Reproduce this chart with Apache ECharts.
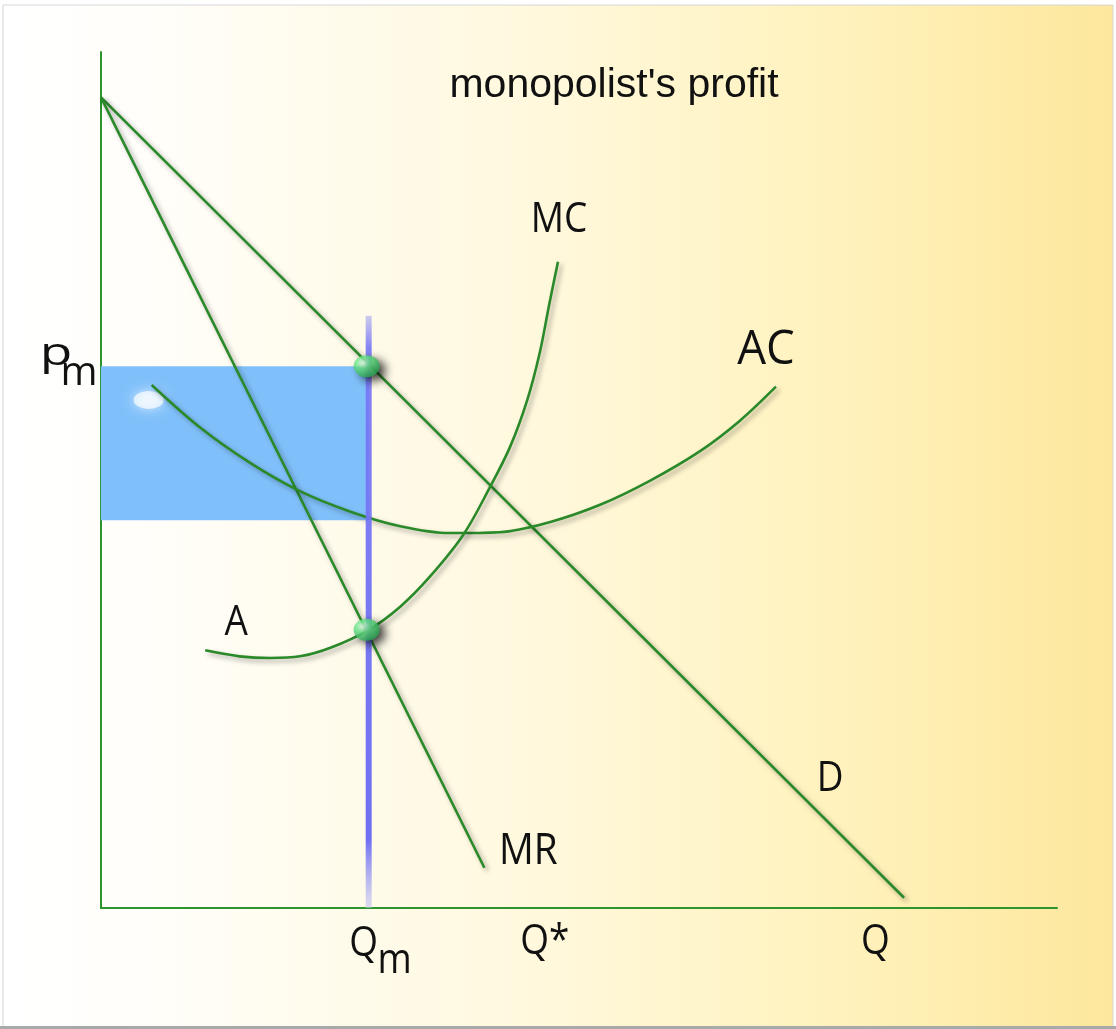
<!DOCTYPE html>
<html>
<head>
<meta charset="utf-8">
<script src="https://cdn.jsdelivr.net/npm/echarts@6/dist/echarts.min.js"></script>
<style>
html, body { margin: 0; padding: 0; background: #ffffff; }
#chart { width: 1116px; height: 1029px; }
</style>
</head>
<body>
<div id="chart"></div>
<script>
// ---- Data (quantity on x, price on y; arbitrary 0-100 units) ----
const demandCurve = [[0, 94.7], [84.0, 1.2]];
const marginalRevenueCurve = [[0, 94.7], [40.1, 4.7]];
const marginalCostCurve = [
  [10.9, 30.1], [14.5, 29.4], [17.7, 29.2], [20.8, 29.4], [24.0, 30.4],
  [28.0, 32.5], [31.3, 35.2], [34.4, 38.7], [37.9, 43.6], [40.7, 49.2],
  [42.8, 53.9], [44.6, 59.4], [45.9, 64.9], [46.9, 70.6], [47.8, 75.5]
];
const averageCostCurve = [
  [5.3, 61.1], [10.4, 56.1], [15.6, 52.0], [20.8, 48.7], [26.1, 46.3],
  [31.3, 44.6], [36.5, 43.8], [41.7, 43.9], [47.0, 45.1], [52.2, 47.1],
  [57.4, 49.9], [62.7, 53.4], [66.8, 56.9], [70.6, 60.9]
];
const monopolyQuantity = 28.0;
const monopolyPrice = 63.3;
const averageCostAtQm = 45.3;
const marginalCostAtQm = 32.5;
const qmLineTop = 69.2;
const xTickValues = [28.0, 46.0, 80.9];
const xTickLabels = [['Q', 'm'], ['Q*', ''], ['Q', '']];
const yTickValues = [63.3];
const yTickLabels = [['p', 'm']];
const titleText = "monopolist's profit";

// ---- Chart ----
const chart = echarts.init(document.getElementById('chart'), null, { renderer: 'canvas' });
const GREEN = '#2a8a2a';
const lineShadow = { shadowColor: 'rgba(0,0,0,0.35)', shadowBlur: 5, shadowOffsetX: 3, shadowOffsetY: 3 };
const curveStyle = Object.assign({ color: GREEN, width: 2.6 }, lineShadow);

const bgGradient = new echarts.graphic.LinearGradient(0, 0, 1, 0, [
  { offset: 0, color: '#ffffff' },
  { offset: 0.12, color: '#fffefa' },
  { offset: 0.45, color: '#fff9e0' },
  { offset: 0.75, color: '#fff2bd' },
  { offset: 1, color: '#fde79c' }
]);

const sphere = new echarts.graphic.RadialGradient(0.35, 0.35, 0.75, [
  { offset: 0, color: '#e6fff0' },
  { offset: 0.35, color: '#6be88a' },
  { offset: 1, color: '#1f9e4c' }
]);

const qmGradient = new echarts.graphic.LinearGradient(0, 0, 0, 1, [
  { offset: 0, color: 'rgba(130,130,245,0.35)' },
  { offset: 0.06, color: 'rgba(118,118,245,0.9)' },
  { offset: 0.88, color: '#6f6ff3' },
  { offset: 1, color: 'rgba(200,200,240,0.55)' }
]);

chart.setOption({
  animation: false,
  backgroundColor: 'transparent',
  grid: { left: 101, top: 52, width: 956, height: 856 },
  xAxis: {
    type: 'value', min: 0, max: 100,
    axisLine: { show: true, onZero: false, lineStyle: { color: '#2e952e', width: 2 } },
    axisTick: { show: false }, axisLabel: { show: false }, splitLine: { show: false }
  },
  yAxis: {
    type: 'value', min: 0, max: 100,
    axisLine: { show: true, onZero: false, lineStyle: { color: '#2e952e', width: 2 } },
    axisTick: { show: false }, axisLabel: { show: false }, splitLine: { show: false }
  },
  graphic: [
    {
      id: 'bg', type: 'rect', z: -100, silent: true,
      shape: { x: 3, y: 5, width: 1110, height: 1022 },
      style: { fill: bgGradient, stroke: '#d6d6d6', lineWidth: 1 }
    },
    {
      id: 'bottomEdge', type: 'rect', z: -99, silent: true,
      shape: { x: 0, y: 1026, width: 1116, height: 3 },
      style: { fill: '#a9a9a9' }
    }
  ],
  series: [
    {
      name: 'profit', type: 'custom', z: 1,
      data: [[0, monopolyPrice, monopolyQuantity, averageCostAtQm]],
      renderItem: function (params, api) {
        const p1 = api.coord([api.value(0), api.value(1)]);
        const p2 = api.coord([api.value(2), api.value(3)]);
        return {
          type: 'rect',
          shape: { x: p1[0], y: p1[1], width: p2[0] - p1[0], height: p2[1] - p1[1] },
          style: { fill: '#80c0fa' }
        };
      }
    },
    {
      name: 'highlight', type: 'scatter', z: 2, silent: true,
      data: [averageCostCurve[0]],
      symbol: 'circle', symbolSize: [30, 18], symbolOffset: [-3, 15],
      itemStyle: { color: 'rgba(255,255,255,0.85)', shadowColor: '#ffffff', shadowBlur: 12 }
    },
    { name: 'D', type: 'line', z: 3, data: demandCurve, showSymbol: false, lineStyle: curveStyle },
    { name: 'MR', type: 'line', z: 3, data: marginalRevenueCurve, showSymbol: false, lineStyle: curveStyle },
    { name: 'AC', type: 'line', z: 3, data: averageCostCurve, smooth: 0.35, showSymbol: false, lineStyle: curveStyle },
    { name: 'MC', type: 'line', z: 3, data: marginalCostCurve, smooth: 0.35, showSymbol: false, lineStyle: curveStyle },
    {
      name: 'Qm', type: 'line', z: 4,
      data: [[monopolyQuantity, 0], [monopolyQuantity, qmLineTop]],
      showSymbol: false,
      lineStyle: { color: qmGradient, width: 6 }
    },
    {
      name: 'equilibrium', type: 'scatter', z: 5,
      data: [[monopolyQuantity, monopolyPrice], [monopolyQuantity, marginalCostAtQm]],
      symbol: 'circle', symbolSize: [26, 22], symbolOffset: [-2, 0],
      itemStyle: {
        color: sphere, shadowColor: 'rgba(0,0,0,0.9)', shadowBlur: 10,
        shadowOffsetX: 6, shadowOffsetY: 4
      }
    }
  ]
});

// ---- Text labels positioned from the axes' own scales ----
function px(pt) { return chart.convertToPixel({ gridIndex: 0 }, pt); }
const LABEL_FONT = '"Open Sans", "Noto Sans", sans-serif';
function label(id, text, x, y, size, sx, sy) {
  return {
    id: id, type: 'text', z: 100, silent: true,
    x: x, y: y, scaleX: sx || 0.88, scaleY: sy || 1,
    style: {
      text: text, fill: '#111', font: 'normal ' + size + 'px ' + LABEL_FONT,
      align: 'center', verticalAlign: 'middle'
    }
  };
}
const g = [];
g.push({
  id: 'title', type: 'text', z: 100, silent: true, x: 614, y: 86,
  style: { text: titleText, fill: '#111', font: 'normal 41px "Liberation Sans", Arial, sans-serif', align: 'center', verticalAlign: 'middle' }
});
const mcEnd = px(marginalCostCurve[marginalCostCurve.length - 1]);
const mcStart = px(marginalCostCurve[0]);
const acEnd = px(averageCostCurve[averageCostCurve.length - 1]);
const mrEnd = px(marginalRevenueCurve[1]);
const dEnd = px(demandCurve[1]);
g.push(label('lMC', 'MC', mcEnd[0] + 1, mcEnd[1] - 42, 42));
g.push(label('lAC', 'AC', acEnd[0] - 10, acEnd[1] - 36, 48, 0.95));
g.push(label('lA', 'A', mcStart[0] + 31, mcStart[1] - 27, 42));
g.push(label('lMR', 'MR', mrEnd[0] + 44, mrEnd[1] - 16, 44));
g.push(label('lD', 'D', dEnd[0] - 74, dEnd[1] - 119, 42));
const origin = px([0, 0]);
xTickValues.forEach(function (v, i) {
  const p = px([v, 0]);
  const main = xTickLabels[i][0], sub = xTickLabels[i][1];
  if (sub) {
    g.push(label('xt' + i, main, p[0] - 5, origin[1] + 36, 42));
    g.push(label('xs' + i, sub, p[0] + 26, origin[1] + 53, 42));
  } else {
    g.push(label('xt' + i, main, p[0] + (main.length > 1 ? 4 : 1), origin[1] + 34, 42));
  }
});
yTickValues.forEach(function (v, i) {
  const p = px([0, v]);
  g.push(label('yt' + i, yTickLabels[i][0], p[0] - 45, p[1] - 12, 38, 1.4, 1.0));
  g.push(label('ys' + i, yTickLabels[i][1], p[0] - 22, p[1] + 7, 40, 1.0));
});
chart.setOption({ graphic: g });
</script>
</body>
</html>
